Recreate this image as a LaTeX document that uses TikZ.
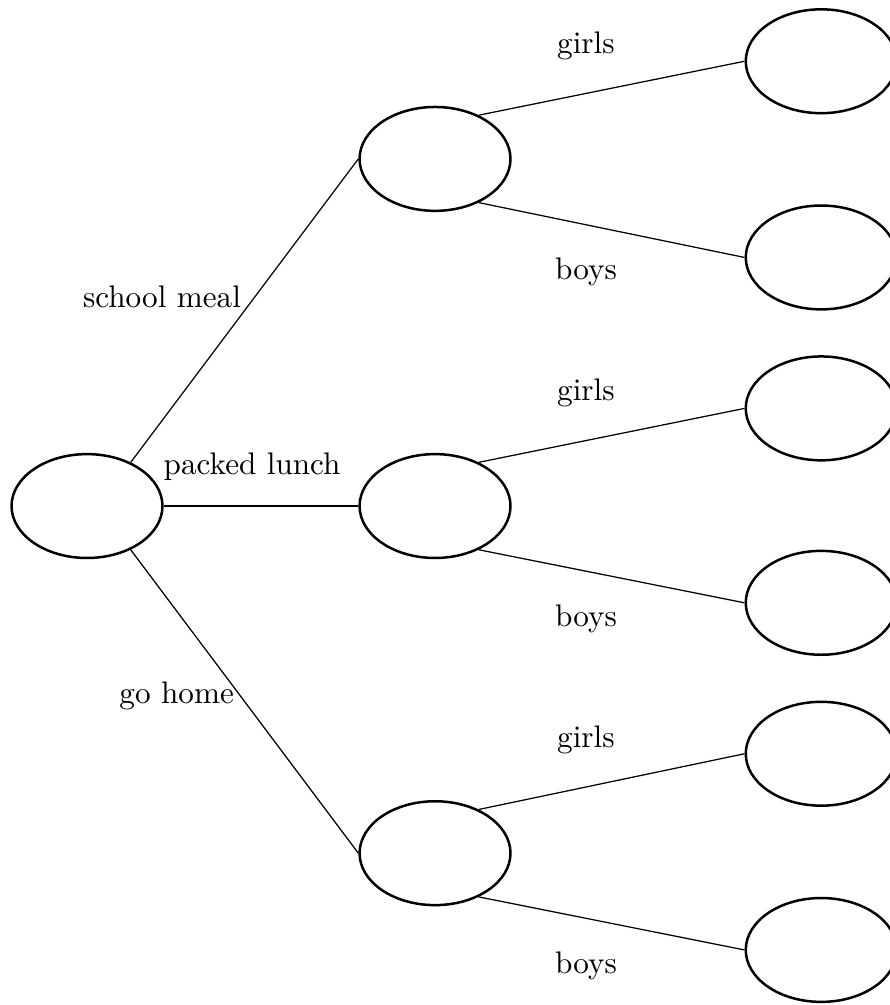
\documentclass[tikz,border=0pt]{standalone}
\usetikzlibrary{positioning,shapes.geometric}
\tikzset{
bubble/.style={
  ellipse,
  draw=black,
  thick,
  minimum width=1.7cm,
  minimum height=1.17cm
  },
lbl/.style={anchor=base}
}

\begin{document}
\begin{tikzpicture}
\useasboundingbox (-0.98,-5.62) rectangle (9.04,5.70);

\node[bubble] (start) at (0,0) {};
\node[bubble] (meal) at (3.92,3.91) {};
\node[bubble] (lunch) at (3.92,0) {};
\node[bubble] (home) at (3.92,-3.91) {};

\draw (start.45) -- (meal.west);
\draw (start.east) -- (lunch.west);
\draw (start.-45) -- (home.west);
\node[lbl] (mealtxt) at ([xshift=0.845cm,yshift=2.24cm]start.center) {school meal};
\node[lbl] (lunchtxt) at ([xshift=1.86cm,yshift=0.35cm]start.center) {packed lunch};
\node[lbl] (hometxt) at ([xshift=1.01cm,yshift=-2.22cm]start.center) {go home};

\begin{scope}
\node[bubble] (mealg) at (8.27,5.01) {};
\node[bubble] (mealb) at (8.27,2.80) {};
\draw (meal.45) -- (mealg.west);
\draw (meal.-45) -- (mealb.west);
\node[lbl] (mealgtxt) at ([xshift=1.7cm,yshift=1.19cm]meal.center) {girls};
\node[lbl] (mealbtxt) at ([xshift=1.7cm,yshift=-1.36cm]meal.center) {boys};
\end{scope}

\begin{scope}
\node[bubble] (lunchg) at (8.27,1.10) {};
\node[bubble] (lunchb) at (8.27,-1.09) {};
\draw (lunch.45) -- (lunchg.west);
\draw (lunch.-45) -- (lunchb.west);
\node[lbl] (lunchgtxt) at ([xshift=1.7cm,yshift=1.19cm]lunch.center) {girls};
\node[lbl] (lunchbtxt) at ([xshift=1.7cm,yshift=-1.36cm]lunch.center) {boys};
\end{scope}

\begin{scope}
\node[bubble] (homeg) at (8.27,-2.79) {};
\node[bubble] (homeb) at (8.27,-5.00) {};
\draw (home.45) -- (homeg.west);
\draw (home.-45) -- (homeb.west);
\node[lbl] (homegtxt) at ([xshift=1.7cm,yshift=1.19cm]home.center) {girls};
\node[lbl] (homebtxt) at ([xshift=1.7cm,yshift=-1.36cm]home.center) {boys};
\end{scope}

\end{tikzpicture}
\end{document}
